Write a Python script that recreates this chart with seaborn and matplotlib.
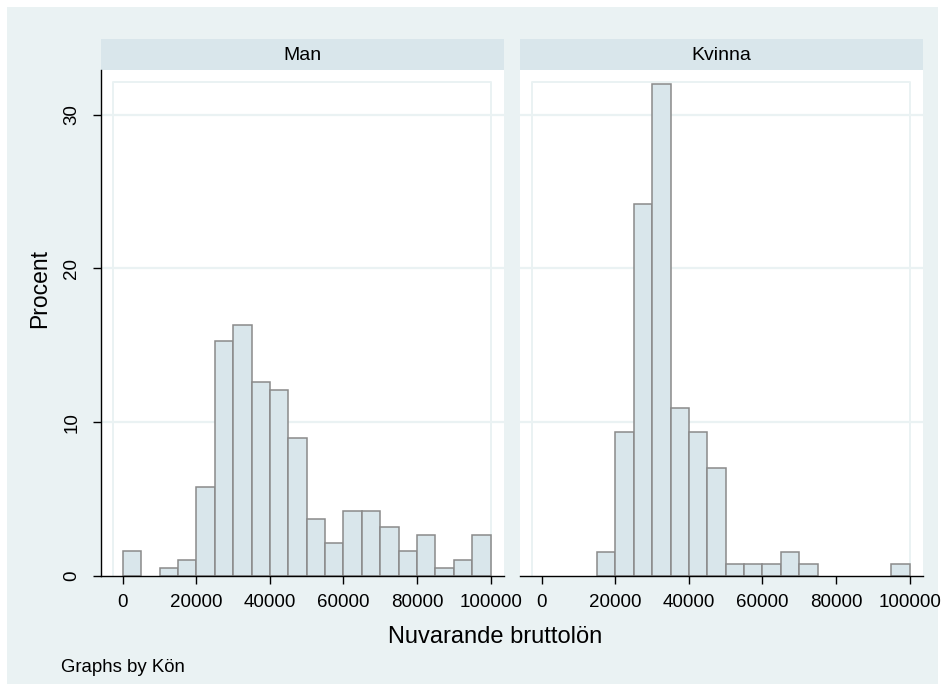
import matplotlib
matplotlib.use("Agg")
import matplotlib.pyplot as plt
import seaborn as sns
import pandas as pd
import numpy as np
from matplotlib.patches import Rectangle

# ---- data (percent per 5000-wide bin) ----
bin_start = [0, 5000, 10000, 15000, 20000, 25000, 30000, 35000, 40000, 45000,
             50000, 55000, 60000, 65000, 70000, 75000, 80000, 85000, 90000, 95000]
bin_width = 5000
man_pct = [1.58, 0.0, 0.53, 1.05, 5.79, 15.26, 16.32, 12.63, 12.11, 8.95,
           3.68, 2.11, 4.21, 4.21, 3.16, 1.58, 2.63, 0.53, 1.05, 2.63]
kvinna_pct = [0.0, 0.0, 0.0, 1.56, 9.38, 24.22, 32.03, 10.94, 9.38, 7.03,
              0.78, 0.78, 0.78, 1.56, 0.78, 0.0, 0.0, 0.0, 0.0, 0.78]
panels = ["Man", "Kvinna"]
x_ticks = [0, 20000, 40000, 60000, 80000, 100000]
y_ticks = [0, 10, 20, 30]

rows = []
for name, vals in zip(panels, [man_pct, kvinna_pct]):
    for s, v in zip(bin_start, vals):
        if v > 0:
            rows.append({"Kön": name, "lon": s + bin_width / 2, "pct": v})
df = pd.DataFrame(rows)
edges = bin_start + [bin_start[-1] + bin_width]

sns.set_theme(style="white")
plt.rcParams["font.family"] = ["Liberation Sans", "DejaVu Sans"]
plt.rcParams["text.color"] = "black"
plt.rcParams["xtick.color"] = "black"
plt.rcParams["ytick.color"] = "black"

W, H = 945, 691
fig = plt.figure(figsize=(W / 100, H / 100), dpi=100, facecolor="white")

BG = "#EAF2F3"
STRIP = "#D9E6EB"
BAR = "#D9E6EB"
EDGE = "#8A8A8A"

# outer graph region
fig.patches.append(Rectangle((7 / W, 7 / H), (W - 14) / W, (H - 14) / H,
                             transform=fig.transFigure, facecolor=BG,
                             edgecolor="none", zorder=-5))

def fx(px):
    return px / W

def fy(py):
    return 1 - py / H

ax_bottom = fy(575.7)
ax_top = fy(70)
lefts = [101, 520]
width_px = 403

inner_top = 32.12
ylim_top = 32.92
xlim = (-5950, 103650)
inner_left = -2560

axes = []
for i, name in enumerate(panels):
    ax = fig.add_axes([fx(lefts[i]), ax_bottom, width_px / W, ax_top - ax_bottom])
    ax.set_zorder(1)
    ax.set_facecolor("white")
    sub = df[df["Kön"] == name]
    sns.histplot(data=sub, x="lon", weights="pct", bins=edges, ax=ax,
                 stat="count", color=BAR, alpha=1, edgecolor=EDGE,
                 linewidth=1.1, zorder=3)
    for p in ax.patches:
        if p.get_height() <= 0:
            p.set_visible(False)
    ax.set_xlim(*xlim)
    ax.set_ylim(0, ylim_top)
    for t in y_ticks[1:]:
        ax.axhline(t, color=BG, lw=1.6, zorder=1)
    ax.plot([inner_left, inner_left, 100000, 100000],
            [0, inner_top, inner_top, 0], color=BG, lw=1.4, zorder=1)
    for side in ["top", "right"]:
        ax.spines[side].set_visible(False)
    ax.spines["bottom"].set_color("black")
    ax.spines["bottom"].set_linewidth(1.0)
    ax.spines["bottom"].set_zorder(5)
    if i == 0:
        ax.spines["left"].set_color("black")
        ax.spines["left"].set_linewidth(1.0)
        ax.set_yticks(y_ticks)
        ax.set_yticklabels([str(t) for t in y_ticks], rotation=90, va="center",
                           fontsize=13.5)
        ax.tick_params(axis="y", direction="out", length=6, width=1,
                       color="black", labelcolor="black", left=True, pad=9)
    else:
        ax.spines["left"].set_visible(False)
        ax.set_yticks([])
    ax.set_xticks(x_ticks)
    ax.set_xticklabels([str(t) for t in x_ticks], fontsize=13.5)
    ax.tick_params(axis="x", direction="out", length=6, width=1,
                   color="black", labelcolor="black", bottom=True, pad=7)
    ax.set_xlabel("")
    ax.set_ylabel("")
    ax.grid(False)
    fig.patches.append(Rectangle((fx(lefts[i]), fy(70)), width_px / W,
                                 (70 - 39.3) / H, transform=fig.transFigure,
                                 facecolor=STRIP, edgecolor="none", zorder=-1))
    fig.text(fx(lefts[i] + width_px / 2), fy(55), name, ha="center",
             va="center", fontsize=14, color="black")
    axes.append(ax)

fig.text(fx(40), fy(288), "Procent", rotation=90, ha="center", va="center",
         fontsize=16.5, color="black")
fig.text(fx(495), fy(637), "Nuvarande bruttolön", ha="center", va="center",
         fontsize=17, color="black")
fig.text(fx(61), fy(667), "Graphs by Kön", ha="left", va="center",
         fontsize=13.4, color="black")

fig.savefig("out.png", dpi=100, facecolor="white")
